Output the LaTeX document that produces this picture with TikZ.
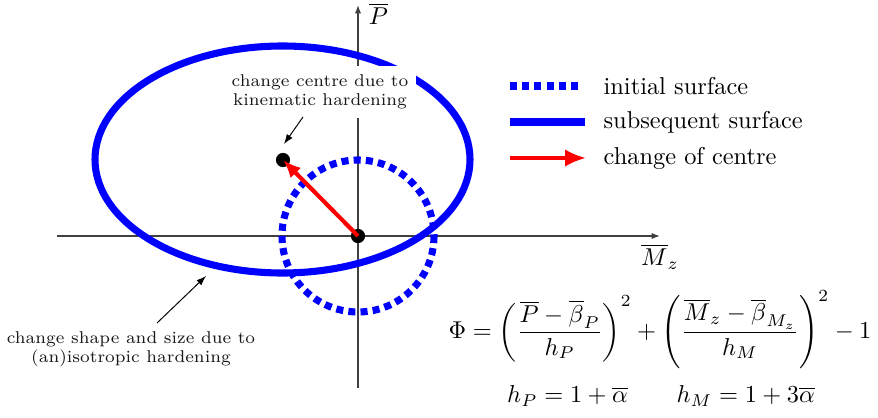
\documentclass[tikz,border=0pt]{standalone}
\usepackage{amsmath}
\usetikzlibrary{arrows.meta, calc}
\begin{document}
\begin{tikzpicture}[x=0.01441cm, y=-0.01441cm, font=\normalsize]
\useasboundingbox (0,0) rectangle (878,418);
% styles
\tikzset{axis/.style={black!75, line width=0.5pt, -{Latex[length=1.2mm, width=0.9mm]}},
         initsurf/.style={blue, line width=2.9pt, dash pattern=on 2.9pt off 2.1pt},
         subsurf/.style={blue, line width=2.9pt},
         centreshift/.style={red, line width=1.7pt, -{Latex[length=2.6mm, width=2.1mm]}},
         legshift/.style={red, line width=1.5pt, -{Latex[length=3mm, width=2.5mm]}},
         note/.style={font=\scriptsize, text=black!90, align=center, fill=white},
         pointer/.style={black, line width=0.4pt, -{Latex[length=1.4mm, width=1mm]}},
         dot/.style={circle, fill=black, inner sep=0pt, minimum size=5.8pt}}

% ---- axes
\coordinate (O) at (358,236);
\draw[axis] (57,236) -- (660,236);
\draw[axis] (358,388) -- (358,5);
\node[anchor=north west, inner sep=1pt] (pbar) at (366,0) {$\overline{P}$};
\node[anchor=north, inner sep=1pt] (mzbar) at (660,241) {$\overline{M}_z$};

% ---- surfaces
\draw[subsurf] (282.5,159.5) ellipse [x radius=187.5, y radius=113.5];
\draw[initsurf] (O) circle [radius=76];

% ---- centres
\node[dot] (c0) at (O) {};
\node[dot] (c1) at (283,160) {};
\draw[centreshift] (c0.center) -- (c1.center);

% ---- notes
\node[note] (kinnote) at (320,92) {change centre due to\\kinematic hardening};
\coordinate (kintail) at (303,117);
\coordinate (kintip) at (284,144);
\draw[pointer] (kintail) -- (kintip);
\node[note] (isonote) at (131,349) {change shape and size due to\\(an)isotropic hardening};
\coordinate (isotail) at (157,323);
\coordinate (isotip) at (206,276);
\draw[pointer] (isotail) -- (isotip);

% ---- legend
\node[anchor=west] (leg1) at (595,86) {initial surface};
\node[anchor=west] (leg2) at (595,122) {subsequent surface};
\node[anchor=west] (leg3) at (595,158) {change of centre};
\draw[initsurf] (510,86) -- (583,86);
\draw[subsurf] (510,122) -- (585,122);
\draw[legshift] (510,158) -- (586,158);

% ---- yield function
\node (phi) at (660,330) {$\displaystyle \Phi = \left(\frac{\overline{P}-\overline{\beta}_P}{h_P}\right)^2 + \left(\frac{\overline{M}_z-\overline{\beta}_{M_z}}{h_M}\right)^2 - 1$};
\node (hfun) at (661,396) {$h_P = 1+\overline{\alpha} \qquad h_M = 1+3\overline{\alpha}$};
\end{tikzpicture}
\end{document}
